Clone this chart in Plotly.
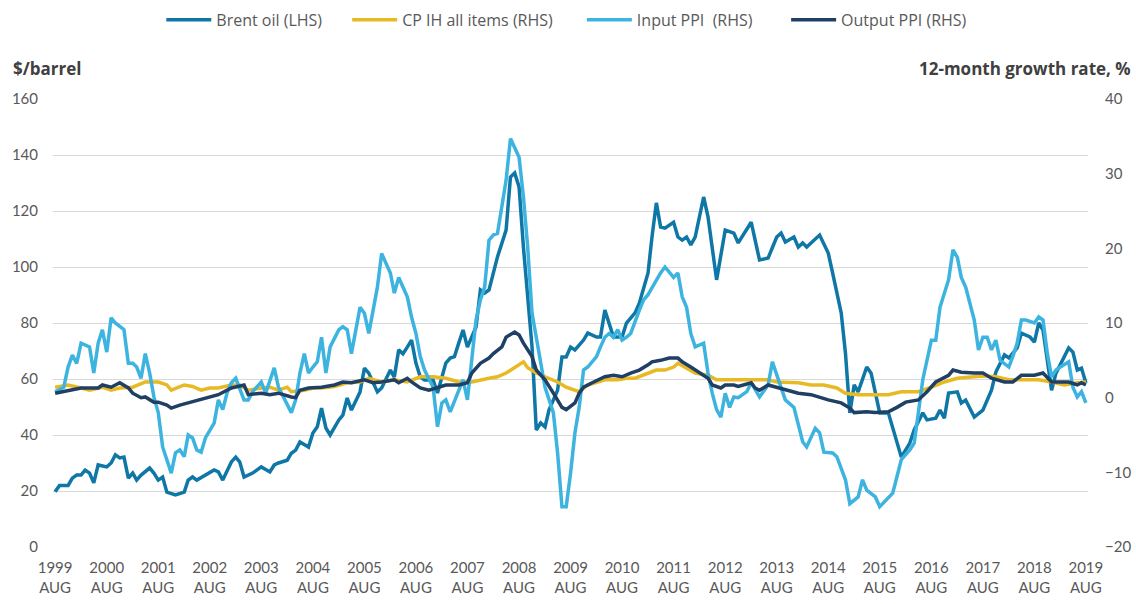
import pandas as pd
import plotly.graph_objects as go

# (months since Aug 1999, value)
brent = [(0,19.7),(1,22),(3,22),(4,24.6),(5,25.7),(6,25.7),(7,27.5),(8,26.4),(9,22.9),(10,29.3),(12,28.6),(13,30),(14,32.9),(15,31.8),(16,32.1),(17,24.6),(18,26.4),(19,23.9),(20,25.7),(22,28.2),(23,26.4),(24,23.9),(25,25),(26,19.6),(28,18.6),(30,19.6),(31,23.9),(32,25),(33,23.9),(35,25.7),(37,27.5),(38,26.8),(39,23.9),(41,30.4),(42,32.1),(43,30.4),(44,25),(46,26.4),(47,27.5),(48,28.6),(50,26.8),(51,29.3),(52,30),(54,31),(55,33.5),(56,34.6),(57,37.5),(59,35.7),(60,40.7),(61,42.9),(62,49.6),(63,42.5),(64,40),(66,45.4),(67,47.1),(68,53.2),(69,48.9),(71,55.4),(72,63.9),(73,62.1),(75,55.4),(76,56.8),(78,63.2),(79,60.7),(80,70.4),(81,69),(82,71.4),(83,73.9),(84,65.7),(85,60.7),(86,59.6),(88,59.6),(89,55),(90,60.7),(91,65.7),(92,67.5),(93,68),(94,72.9),(95,77.5),(96,71.4),(97,75),(98,78.6),(99,91.8),(100,90.7),(101,91.8),(102,97.9),(103,103.6),(105,113.2),(106,132.1),(107,133.6),(108,128.6),(109,107),(111,71.4),(112,41.8),(113,44.3),(114,42.9),(115,48.9),(117,56),(118,67.9),(119,67.9),(120,71.4),(121,70.4),(123,73.9),(124,76.4),(126,75),(127,75),(128,84.6),(130,75),(131,75),(132,75),(133,80),(135,83.6),(136,87.1),(138,97.9),(139,110.7),(140,122.9),(141,114.3),(142,113.9),(144,116),(145,110.7),(146,109.6),(147,110.7),(148,107.9),(149,110.7),(151,125),(152,117.9),(154,95.4),(156,113.2),(158,112.1),(159,108.6),(162,116),(164,102.5),(166,103.2),(168,110.7),(169,112.1),(170,108.9),(172,110.7),(173,107.1),(174,108.6),(175,107.1),(178,111.4),(180,105),(181,97.9),(183,83.6),(184,69.3),(185,47.9),(186,57.9),(187,55.4),(189,64.3),(190,62.1),(192,47.9),(194,47.9),(197,32.1),(199,37.1),(200,41.8),(202,47.9),(203,45.4),(205,46),(206,48.9),(207,46),(208,55),(210,55.4),(211,51.4),(212,52.5),(214,46.4),(216,48.9),(218,56),(219,62.5),(221,68.6),(222,67.5),(224,71.1),(225,76.4),(227,75),(228,73.2),(229,80),(230,77.5),(232,56),(233,62.1),(236,71.1),(237,69.6),(238,63.2),(239,63.9),(240,58.6)]

cpih = [(0,1.4),(3,1.7),(6,1.3),(8,1.0),(11,1.4),(13,1.0),(15,1.3),(18,1.4),(21,2.1),(24,2.1),(26,1.7),(27,1.0),(30,1.7),(32,1.5),(34,1.0),(36,1.3),(38,1.3),(41,1.7),(43,1.7),(45,1.0),(48,1.3),(50,1.4),(52,1.0),(54,1.4),(55,0.8),(58,1.0),(60,1.3),(62,1.3),(65,1.5),(68,2.0),(71,2.1),(73,2.6),(76,2.1),(79,2.4),(82,2.1),(85,2.8),(88,2.8),(91,2.6),(94,2.1),(97,2.1),(101,2.6),(103,2.8),(105,3.3),(107,4.1),(109,4.8),(110,4.0),(112,3.3),(114,2.8),(117,2.1),(119,1.4),(122,0.8),(124,1.7),(126,2.1),(128,2.4),(131,2.4),(133,2.6),(135,2.6),(138,3.3),(140,3.7),(142,3.7),(144,4.1),(145,4.6),(147,4.0),(149,3.3),(152,3.0),(154,2.4),(157,2.4),(160,2.4),(163,2.4),(166,2.4),(168,2.1),(170,2.1),(173,2.0),(176,1.7),(179,1.7),(182,1.3),(184,0.6),(187,0.4),(190,0.4),(194,0.4),(197,0.8),(201,0.8),(204,1.4),(207,2.1),(210,2.6),(213,2.8),(216,2.9),(219,2.8),(222,2.4),(226,2.4),(229,2.4),(232,2.1),(235,1.7),(238,2.0),(240,2.1)]

input_ppi = [(0,0.8),(2,1.4),(3,4.1),(4,5.7),(5,4.6),(6,7.3),(8,6.8),(9,3.3),(10,7.3),(11,9.1),(12,6.1),(13,10.7),(14,10.0),(16,9.1),(17,4.6),(18,4.6),(19,4.1),(20,2.6),(21,5.9),(22,3.3),(23,0.1),(24,-2.0),(25,-6.6),(26,-8.3),(27,-10.1),(28,-7.4),(29,-7.0),(30,-7.9),(31,-5.0),(32,-5.4),(33,-7.0),(34,-7.3),(35,-5.4),(37,-3.4),(38,-0.3),(39,-1.6),(40,0.6),(41,2.0),(42,2.6),(44,-0.3),(45,-0.3),(46,0.8),(48,2.1),(49,0.6),(50,2.4),(51,4.0),(52,1.4),(54,-1.0),(55,-2.0),(56,-0.3),(57,3.3),(58,5.9),(59,3.3),(60,4.1),(61,4.8),(62,8.1),(63,3.3),(64,6.8),(66,9.1),(67,9.5),(68,9.1),(69,5.9),(71,12.1),(72,11.3),(73,8.6),(75,14.8),(76,19.3),(78,16.7),(79,14.0),(80,16.1),(82,13.5),(83,10.8),(84,8.6),(85,5.5),(86,3.7),(88,1.4),(89,-3.9),(90,-0.7),(91,-0.3),(92,-1.9),(94,1.0),(95,2.4),(96,-0.3),(97,5.5),(98,10.4),(99,13.1),(100,14.8),(101,21.1),(102,21.8),(103,22.0),(105,29.1),(106,34.7),(108,32.2),(109,26.9),(110,20.2),(111,11.3),(113,4.6),(114,1.4),(116,-2.0),(117,-7.4),(118,-14.6),(119,-14.6),(120,-10.1),(121,-4.7),(122,-1.3),(123,3.7),(124,4.1),(126,5.5),(127,6.8),(128,8.1),(129,8.6),(130,8.1),(131,9.1),(132,7.7),(133,8.1),(134,8.6),(136,11.7),(137,13.1),(138,13.8),(140,15.8),(141,16.7),(142,17.5),(144,16.1),(145,16.7),(146,13.5),(147,12.1),(148,8.6),(149,6.8),(151,7.3),(152,3.3),(153,0.6),(154,-1.6),(155,-2.6),(156,0.6),(157,-1.3),(158,0.1),(159,0.0),(161,0.8),(162,2.0),(164,0.1),(166,1.7),(167,4.8),(169,1.4),(170,-0.3),(172,-1.3),(173,-3.4),(174,-5.9),(175,-6.6),(177,-4.1),(178,-4.7),(179,-7.3),(181,-7.4),(182,-7.9),(184,-11.0),(185,-14.2),(187,-13.3),(188,-11.0),(189,-12.4),(191,-13.3),(192,-14.6),(194,-13.3),(195,-12.8),(196,-10.6),(197,-8.3),(199,-7.0),(200,-6.1),(201,-2.0),(202,2.4),(204,7.7),(205,7.7),(206,12.1),(208,15.8),(209,19.8),(210,18.8),(211,16.1),(212,14.8),(214,10.4),(215,6.4),(216,8.1),(217,8.1),(218,6.4),(219,7.7),(220,5.0),(222,4.1),(223,5.5),(224,7.3),(225,10.4),(226,10.4),(228,10.0),(229,10.8),(230,10.4),(231,5.9),(232,2.8),(233,3.7),(234,4.1),(236,4.8),(237,1.4),(238,0.1),(239,0.8),(240,-0.7)]

output_ppi = [(0,0.6),(3,1.0),(6,1.3),(10,1.3),(11,1.7),(13,1.4),(15,2.0),(17,1.3),(18,0.6),(20,0.0),(21,0.1),(23,-0.6),(24,-0.6),(26,-1.0),(27,-1.4),(29,-1.0),(31,-0.7),(33,-0.3),(35,0.0),(38,0.4),(41,1.3),(44,1.7),(45,0.4),(48,0.6),(50,0.4),(52,0.6),(55,0.1),(56,0.0),(57,1.0),(59,1.3),(62,1.4),(65,1.7),(67,2.1),(69,2.0),(72,2.4),(74,2.0),(76,2.1),(79,2.4),(80,2.0),(82,2.6),(83,2.1),(85,1.3),(87,1.0),(89,1.4),(91,1.7),(94,1.7),(96,2.0),(97,3.3),(99,4.6),(101,5.3),(102,5.9),(104,6.8),(105,8.1),(107,8.8),(108,8.4),(109,7.3),(111,5.5),(112,3.7),(114,2.4),(116,0.6),(118,-1.3),(119,-1.6),(121,-0.7),(122,0.6),(123,1.4),(125,2.0),(128,2.8),(130,3.0),(132,2.8),(134,3.3),(136,3.7),(138,4.4),(139,4.8),(141,5.0),(143,5.3),(145,5.3),(146,4.8),(148,4.1),(150,3.3),(152,2.6),(153,1.7),(155,1.3),(156,1.7),(158,1.7),(159,1.5),(162,2.0),(163,1.3),(164,1.0),(166,1.7),(168,1.4),(169,1.3),(171,1.0),(173,0.6),(176,0.4),(178,0.0),(180,-0.3),(183,-0.7),(185,-1.4),(186,-2.0),(189,-1.9),(191,-2.0),(194,-1.9),(196,-1.3),(198,-0.6),(201,-0.3),(203,0.8),(205,2.1),(208,3.0),(209,3.7),(211,3.4),(214,3.3),(216,3.3),(218,2.6),(221,2.1),(223,2.1),(225,3.0),(228,3.0),(230,3.3),(232,2.1),(234,2.1),(236,2.1),(238,1.7),(239,2.0),(240,1.7)]

tick_years = list(range(1999, 2020))
tick_month_label = "AUG"

start = pd.Timestamp("1999-08-01")


def unpack(pairs):
    months = [start + pd.DateOffset(months=m) for m, _ in pairs]
    vals = [v for _, v in pairs]
    return months, vals


FONT = "Lato, 'Open Sans', sans-serif"
LEG_FONT = "'Open Sans', Lato, sans-serif"
GREY = "#595959"

series = [
    ("Brent oil (LHS)", brent, "#0f77a6", "y", "legend"),
    ("CP IH all items (RHS)", cpih, "#e8b923", "y2", "legend2"),
    ("Input PPI  (RHS)", input_ppi, "#3db3e0", "y2", "legend3"),
    ("Output PPI (RHS)", output_ppi, "#203f64", "y2", "legend4"),
]
# left edge of each legend entry (fraction of the figure width)
legend_x = [0.142, 0.3056, 0.5122, 0.692]

fig = go.Figure()
for name, pairs, color, axis, leg in series:
    x, y = unpack(pairs)
    fig.add_trace(go.Scatter(x=x, y=y, name=name, mode="lines", yaxis=axis, legend=leg,
                             line=dict(color=color, width=3.5)))

tickvals = [pd.Timestamp(f"{yr}-08-01") for yr in tick_years]
ticktext = [f"{yr}<br>{tick_month_label}" for yr in tick_years]


def leg(xpos):
    return dict(orientation="h", xref="container", yref="container",
                x=xpos, xanchor="left", y=0.967, yanchor="middle",
                font=dict(size=16, color=GREY, family=LEG_FONT), itemwidth=45,
                bgcolor="rgba(0,0,0,0)")


fig.update_layout(
    width=1136, height=604,
    margin=dict(l=53, r=48, t=99, b=57, autoexpand=False),
    paper_bgcolor="white", plot_bgcolor="white",
    font=dict(family=FONT, size=15, color=GREY),
    showlegend=True,
    legend=leg(legend_x[0]), legend2=leg(legend_x[1]),
    legend3=leg(legend_x[2]), legend4=leg(legend_x[3]),
    xaxis=dict(type="date", range=[pd.Timestamp("1999-07-17"), pd.Timestamp("2019-08-16")],
               tickmode="array", tickvals=tickvals, ticktext=ticktext, automargin=False,
               showgrid=False, showline=False, ticks="", ticklabelstandoff=10,
               tickfont=dict(size=15, color=GREY)),
    yaxis=dict(range=[0, 160], dtick=20, tick0=0, showgrid=True, gridcolor="#d9d9d9",
               gridwidth=1, zeroline=False, showline=False, ticks="", automargin=False,
               tickfont=dict(size=15, color=GREY), ticklabelstandoff=14),
    yaxis2=dict(range=[-20, 40], dtick=10, tick0=-20, overlaying="y", side="right",
                showgrid=False, zeroline=False, showline=False, ticks="", automargin=False,
                tickfont=dict(size=15, color=GREY), ticklabelstandoff=16),
    annotations=[
        dict(text="<b>$/barrel</b>", xref="paper", yref="paper", x=-0.041, y=1.069,
             xanchor="left", yanchor="middle", showarrow=False,
             font=dict(size=17, color="#404040", family=LEG_FONT)),
        dict(text="<b>12-month growth rate, %</b>", xref="paper", yref="paper", x=1.0435, y=1.069,
             xanchor="right", yanchor="middle", showarrow=False,
             font=dict(size=17, color="#404040", family=LEG_FONT)),
    ],
)

fig.write_html("out.html", config={"displayModeBar": False},
               post_script="document.body.style.margin='0';")
